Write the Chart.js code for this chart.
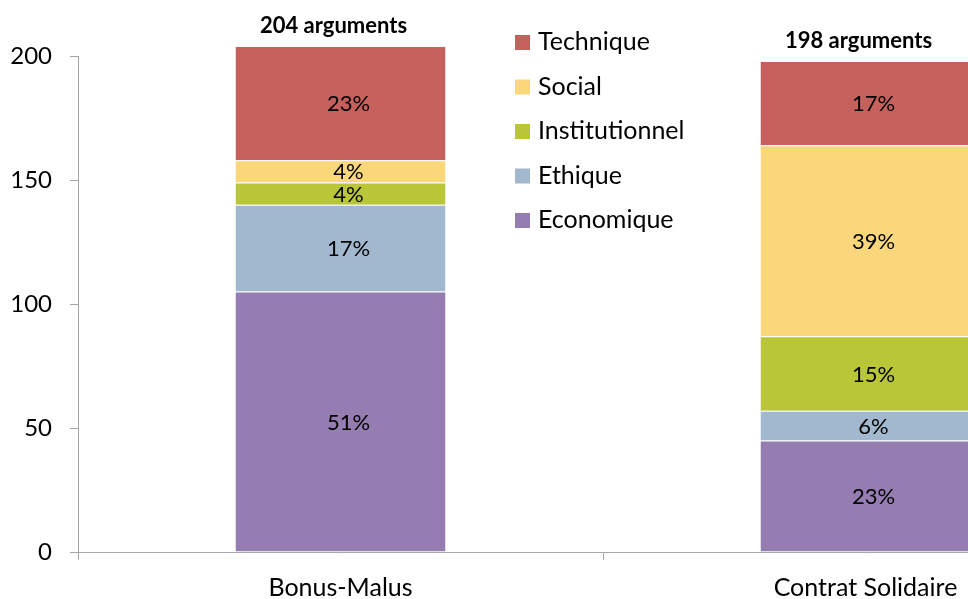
<!DOCTYPE html>
<html>
<head>
<meta charset="utf-8">
<script src="https://cdn.jsdelivr.net/npm/chart.js@4.4.0/dist/chart.umd.min.js"></script>
<style>
  html, body { margin: 0; padding: 0; background: #fff; overflow: hidden; }
  #wrap { width: 1140px; height: 599px; }
</style>
</head>
<body>
<div id="wrap"><canvas id="myChart" width="1140" height="599"></canvas></div>
<script>
const categories = ["Bonus-Malus", "Contrat Solidaire"];
const economique = [105, 45];
const ethique = [35, 12];
const institutionnel = [9, 30];
const social = [9, 77];
const technique = [46, 34];
const yTicks = [0, 50, 100, 150, 200];

const FONT = "Lato";
const axisColor = "#a6a6a6";

const totals = categories.map((c, i) =>
  economique[i] + ethique[i] + institutionnel[i] + social[i] + technique[i]
);

// labels inside the segments + total above each bar
const barLabels = {
  id: "barLabels",
  afterDatasetsDraw(chart) {
    const ctx = chart.ctx;
    ctx.save();
    ctx.fillStyle = "#000";
    ctx.textAlign = "center";
    ctx.textBaseline = "middle";
    ctx.font = "22px " + FONT;
    chart.data.datasets.forEach((ds, d) => {
      chart.getDatasetMeta(d).data.forEach((bar, i) => {
        const pct = Math.round((ds.data[i] / totals[i]) * 100) + "%";
        ctx.fillText(pct, bar.x + 8, (bar.y + bar.base) / 2 + 1);
      });
    });
    const last = chart.getDatasetMeta(chart.data.datasets.length - 1);
    ctx.font = "bold 22px " + FONT;
    last.data.forEach((bar, i) => {
      ctx.fillText(totals[i] + " arguments", bar.x - 7, bar.y - 20);
    });
    ctx.restore();
  },
};

// legend drawn inside the plot area
const innerLegend = {
  id: "innerLegend",
  afterDraw(chart) {
    const ctx = chart.ctx;
    const area = chart.chartArea;
    const x0 = area.left + 437;
    const y0 = area.top - 14;
    ctx.save();
    ctx.textAlign = "left";
    ctx.textBaseline = "middle";
    ctx.font = "25px " + FONT;
    const items = chart.data.datasets.slice().reverse();
    items.forEach((ds, i) => {
      const y = y0 + i * 44.5;
      ctx.fillStyle = ds.backgroundColor;
      ctx.fillRect(x0, y - 7, 15, 15);
      ctx.fillStyle = "#000";
      ctx.fillText(ds.label, x0 + 23, y);
    });
    ctx.restore();
  },
};

const ctx = document.getElementById("myChart");

const chart = new Chart(ctx, {
  type: "bar",
  data: {
    labels: categories,
    datasets: [
      { label: "Economique", data: economique, backgroundColor: "#957db1" },
      { label: "Ethique", data: ethique, backgroundColor: "#a1b8ce" },
      { label: "Institutionnel", data: institutionnel, backgroundColor: "#b9c637" },
      { label: "Social", data: social, backgroundColor: "#fad77b" },
      { label: "Technique", data: technique, backgroundColor: "#c6605d" },
    ].map((ds) => ({
      ...ds,
      borderColor: "rgba(255,255,255,0.45)",
      borderWidth: { top: 1, bottom: 0, left: 0, right: 0 },
      categoryPercentage: 1,
      barPercentage: 0.4,
      clip: false,
    })),
  },
  options: {
    responsive: false,
    animation: false,
    layout: { padding: { top: 56, right: 12, left: 0, bottom: 0 } },
    scales: {
      x: {
        stacked: true,
        offset: true,
        grid: {
          offset: true,
          drawOnChartArea: false,
          tickLength: 8,
          color: axisColor,
        },
        border: { color: axisColor },
        ticks: { color: "#000", font: { family: FONT, size: 25 }, padding: 13 },
        afterFit(scale) {
          scale.height = 47;
        },
      },
      y: {
        stacked: true,
        min: 0,
        max: 200,
        afterBuildTicks(scale) {
          scale.ticks = yTicks.map((v) => ({ value: v }));
        },
        grid: {
          drawOnChartArea: false,
          tickLength: 8,
          color: axisColor,
        },
        border: { color: axisColor },
        ticks: { color: "#000", font: { family: FONT, size: 24 }, padding: 18 },
        afterFit(scale) {
          scale.width = 78;
        },
      },
    },
    plugins: {
      legend: { display: false },
      tooltip: { enabled: false },
    },
  },
  plugins: [barLabels, innerLegend],
});
</script>
</body>
</html>
